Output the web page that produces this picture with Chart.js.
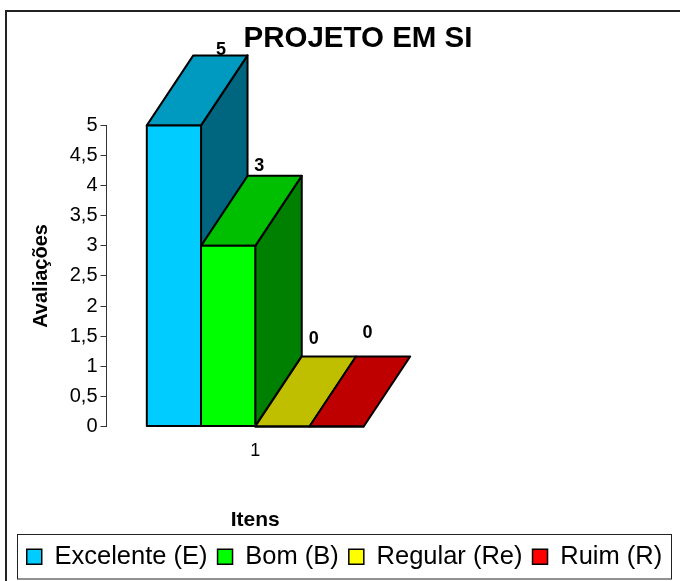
<!DOCTYPE html>
<html>
<head>
<meta charset="utf-8">
<title>Projeto em SI</title>
<script src="https://cdn.jsdelivr.net/npm/chart.js@4"></script>
<style>
  html, body { margin: 0; padding: 0; background: #fff; }
  #wrap { width: 680px; height: 581px; }
</style>
</head>
<body>
<div id="wrap"><canvas id="projetoChart" width="680" height="581"></canvas></div>
<script>
const categories = ['1'];
const seriesNames = ['Excelente (E)', 'Bom (B)', 'Regular (Re)', 'Ruim (R)'];
const seriesValues = [[5], [3], [0], [0]];
const yTicks = [0, 0.5, 1, 1.5, 2, 2.5, 3, 3.5, 4, 4.5, 5];

const frontColors = ['#00CCFF', '#00FF00', '#FFFF00', '#FF0000'];
const topColors = ['#0099BF', '#00BF00', '#BFBF00', '#BF0000'];
const sideColors = ['#006680', '#008000', '#808000', '#800000'];

// depth of the extruded bars, in pixels
const depthX = 46.5;
const depthY = 70;
// value labels sit at hand-placed offsets from the front face centre
const labelShift = [[47, -75], [31, -80], [31.5, -87], [31, -93]];

function face(ctx, pts, fill) {
  ctx.beginPath();
  ctx.moveTo(pts[0][0], pts[0][1]);
  for (let i = 1; i < pts.length; i++) ctx.lineTo(pts[i][0], pts[i][1]);
  ctx.closePath();
  ctx.fillStyle = fill;
  ctx.fill();
  ctx.stroke();
}

const extrudePlugin = {
  id: 'extrude',
  beforeDraw(chart) {
    const ctx = chart.ctx;
    ctx.save();
    ctx.fillStyle = '#fff';
    ctx.fillRect(0, 0, chart.width, chart.height);
    ctx.strokeStyle = '#222';
    ctx.lineWidth = 2;
    ctx.strokeRect(6, 11, 680, 580);
    ctx.restore();
  },
  afterDatasetsDraw(chart) {
    const ctx = chart.ctx;
    ctx.save();
    ctx.strokeStyle = '#000';
    ctx.lineWidth = 2;
    ctx.lineJoin = 'round';
    // painted back to front so each bar covers the side of the one before it
    chart.data.datasets.forEach((ds, i) => {
      const bar = chart.getDatasetMeta(i).data[0];
      const half = bar.width / 2;
      const l = bar.x - half, r = bar.x + half;
      const t = bar.y, b = bar.base;
      if (b - t > 0) {
        face(ctx, [[r, t], [r + depthX, t - depthY], [r + depthX, b - depthY], [r, b]], sideColors[i]);
      }
      face(ctx, [[l, t], [l + depthX, t - depthY], [r + depthX, t - depthY], [r, t]], topColors[i]);
      bar.draw(ctx);
      ctx.beginPath();
      ctx.rect(l, t, r - l, b - t);
      ctx.stroke();
    });
    ctx.fillStyle = '#000';
    ctx.font = 'bold 18px "Liberation Sans"';
    ctx.textAlign = 'center';
    ctx.textBaseline = 'middle';
    chart.data.datasets.forEach((ds, i) => {
      const bar = chart.getDatasetMeta(i).data[0];
      ctx.fillText(String(ds.data[0]), bar.x + labelShift[i][0], bar.y + labelShift[i][1]);
    });
    ctx.restore();
  },
  afterDraw(chart) {
    const ctx = chart.ctx;
    const lg = chart.legend;
    ctx.save();
    ctx.strokeStyle = '#222';
    ctx.lineWidth = 1;
    ctx.strokeRect(17.5, lg.top + 0.5, 654, lg.height - 1);
    ctx.restore();
  },
  afterLayout(chart) {
    // the heading sits right of centre, over the bars and the blank space
    chart.titleBlock.left += 21;
    chart.titleBlock.right += 6;
  }
};

new Chart(document.getElementById('projetoChart').getContext('2d'), {
  type: 'bar',
  data: {
    labels: categories,
    datasets: seriesNames.map((name, i) => ({
      label: name,
      data: seriesValues[i],
      backgroundColor: frontColors[i],
      borderColor: '#000',
      borderWidth: 0
    }))
  },
  options: {
    responsive: false,
    animation: false,
    layout: { padding: { left: 9, right: 0, top: 0, bottom: 1.5 } },
    datasets: { bar: { barPercentage: 1, categoryPercentage: 0.729 } },
    scales: {
      x: {
        grid: { display: false },
        border: { display: false },
        ticks: { color: '#000', padding: 6, font: { family: '"Liberation Sans"', size: 18 } },
        title: {
          display: true,
          text: 'Itens',
          color: '#000',
          padding: { top: 0, bottom: 1 },
          font: { family: '"Liberation Sans"', size: 21, weight: 'bold' }
        },
        afterFit(scale) { scale.height = 107.5; }
      },
      y: {
        min: 0,
        max: 5,
        afterBuildTicks(scale) { scale.ticks = yTicks.map(v => ({ value: v })); },
        grid: { drawOnChartArea: false, color: '#333', tickLength: 6 },
        border: { display: true, color: '#333' },
        ticks: {
          color: '#000',
          padding: 3,
          font: { family: '"Liberation Sans"', size: 20 },
          callback: v => String(v).replace('.', ',')
        },
        title: {
          display: true,
          text: 'Avaliações',
          color: '#000',
          padding: { top: 20, bottom: 0 },
          font: { family: '"Liberation Sans"', size: 20, weight: 'bold' }
        },
        afterFit(scale) { scale.width = 97.5; }
      },
      // blank axis that holds the empty space right of the plot
      spacer: {
        position: 'right',
        grid: { display: false },
        border: { display: false },
        ticks: { display: false },
        afterFit(scale) { scale.width = 276; }
      }
    },
    plugins: {
      title: {
        display: true,
        text: 'PROJETO EM SI',
        color: '#000',
        padding: { top: 21, bottom: 69 },
        font: { family: '"Liberation Sans"', size: 29.5, weight: 'bold' }
      },
      legend: {
        position: 'bottom',
        labels: {
          color: '#000',
          boxWidth: 15,
          boxHeight: 15,
          padding: 10,
          font: { family: '"Liberation Sans"', size: 25.5, lineHeight: 1 },
          generateLabels(chart) {
            return chart.data.datasets.map((ds, i) => ({
              text: ds.label,
              fillStyle: frontColors[i],
              strokeStyle: '#000',
              lineWidth: 1.5,
              datasetIndex: i
            }));
          }
        }
      },
      tooltip: { enabled: false }
    }
  },
  plugins: [extrudePlugin]
});
</script>
</body>
</html>
